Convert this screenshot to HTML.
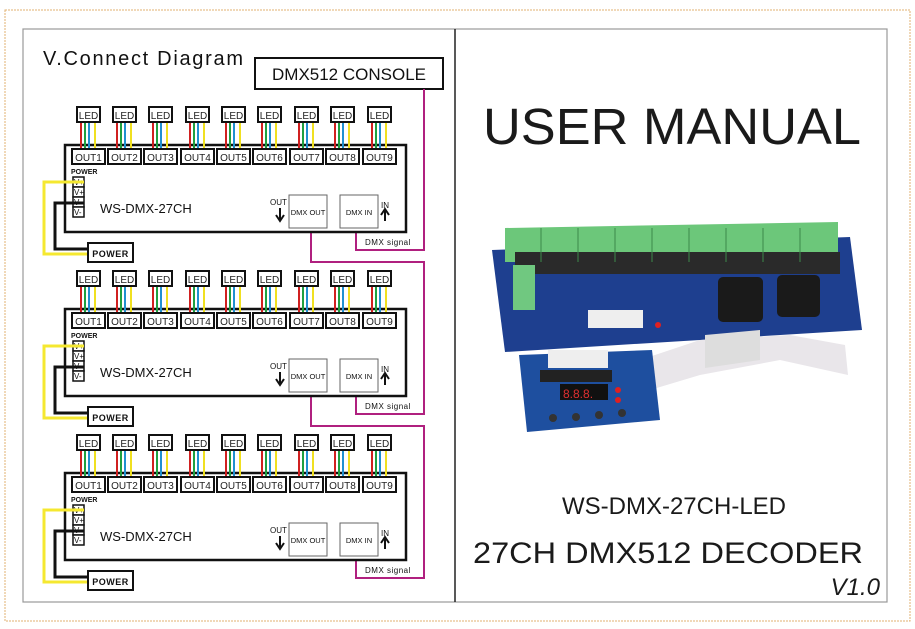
<!DOCTYPE html>
<html><head><meta charset="utf-8"><style>
html,body{margin:0;padding:0;background:#fff;}
svg{display:block;font-family:"Liberation Sans",Arial,sans-serif;}
</style></head><body>
<svg width="915" height="629" viewBox="0 0 915 629" xmlns="http://www.w3.org/2000/svg">
<rect x="5" y="10" width="905" height="611" fill="none" stroke="#e0b070" stroke-width="1" stroke-dasharray="2,1"/>
<rect x="23" y="29" width="864" height="573" fill="none" stroke="#999" stroke-width="1.2"/>
<line x1="455" y1="29" x2="455" y2="602" stroke="#222" stroke-width="1.5"/>
<text x="43" y="65" font-size="20" fill="#111" textLength="200" lengthAdjust="spacing">V.Connect Diagram</text>
<rect x="255" y="58" width="188" height="31" fill="#fff" stroke="#111" stroke-width="2"/>
<text x="349" y="80" font-size="17" text-anchor="middle" fill="#111">DMX512 CONSOLE</text>

<g fill="none" stroke="#b0207f" stroke-width="2">
<polyline points="424,89 424,250 356,250 356,228"/>
<polyline points="311,228 311,262 424,262 424,414 356,414 356,392"/>
<polyline points="311,392 311,426 424,426 424,578 356,578 356,556"/>
</g>

<g>
<rect x="65" y="145" width="341" height="87" fill="#fff" stroke="#111" stroke-width="2.5"/>
<g stroke-width="2">
<g transform="translate(0,0)"><line x1="81" y1="122" x2="81" y2="148" stroke="#d02020"/><line x1="85" y1="122" x2="85" y2="148" stroke="#20a040"/><line x1="89" y1="122" x2="89" y2="148" stroke="#2090d0"/><line x1="95" y1="122" x2="95" y2="148" stroke="#f0e020"/></g>
<g transform="translate(36,0)"><line x1="81" y1="122" x2="81" y2="148" stroke="#d02020"/><line x1="85" y1="122" x2="85" y2="148" stroke="#20a040"/><line x1="89" y1="122" x2="89" y2="148" stroke="#2090d0"/><line x1="95" y1="122" x2="95" y2="148" stroke="#f0e020"/></g>
<g transform="translate(72,0)"><line x1="81" y1="122" x2="81" y2="148" stroke="#d02020"/><line x1="85" y1="122" x2="85" y2="148" stroke="#20a040"/><line x1="89" y1="122" x2="89" y2="148" stroke="#2090d0"/><line x1="95" y1="122" x2="95" y2="148" stroke="#f0e020"/></g>
<g transform="translate(109,0)"><line x1="81" y1="122" x2="81" y2="148" stroke="#d02020"/><line x1="85" y1="122" x2="85" y2="148" stroke="#20a040"/><line x1="89" y1="122" x2="89" y2="148" stroke="#2090d0"/><line x1="95" y1="122" x2="95" y2="148" stroke="#f0e020"/></g>
<g transform="translate(145,0)"><line x1="81" y1="122" x2="81" y2="148" stroke="#d02020"/><line x1="85" y1="122" x2="85" y2="148" stroke="#20a040"/><line x1="89" y1="122" x2="89" y2="148" stroke="#2090d0"/><line x1="95" y1="122" x2="95" y2="148" stroke="#f0e020"/></g>
<g transform="translate(181,0)"><line x1="81" y1="122" x2="81" y2="148" stroke="#d02020"/><line x1="85" y1="122" x2="85" y2="148" stroke="#20a040"/><line x1="89" y1="122" x2="89" y2="148" stroke="#2090d0"/><line x1="95" y1="122" x2="95" y2="148" stroke="#f0e020"/></g>
<g transform="translate(218,0)"><line x1="81" y1="122" x2="81" y2="148" stroke="#d02020"/><line x1="85" y1="122" x2="85" y2="148" stroke="#20a040"/><line x1="89" y1="122" x2="89" y2="148" stroke="#2090d0"/><line x1="95" y1="122" x2="95" y2="148" stroke="#f0e020"/></g>
<g transform="translate(254,0)"><line x1="81" y1="122" x2="81" y2="148" stroke="#d02020"/><line x1="85" y1="122" x2="85" y2="148" stroke="#20a040"/><line x1="89" y1="122" x2="89" y2="148" stroke="#2090d0"/><line x1="95" y1="122" x2="95" y2="148" stroke="#f0e020"/></g>
<g transform="translate(291,0)"><line x1="81" y1="122" x2="81" y2="148" stroke="#d02020"/><line x1="85" y1="122" x2="85" y2="148" stroke="#20a040"/><line x1="89" y1="122" x2="89" y2="148" stroke="#2090d0"/><line x1="95" y1="122" x2="95" y2="148" stroke="#f0e020"/></g>
</g>
<g fill="#fff" stroke="#111" stroke-width="2">
<rect x="77" y="107" width="23" height="15"/><rect x="113" y="107" width="23" height="15"/><rect x="149" y="107" width="23" height="15"/><rect x="186" y="107" width="23" height="15"/><rect x="222" y="107" width="23" height="15"/><rect x="258" y="107" width="23" height="15"/><rect x="295" y="107" width="23" height="15"/><rect x="331" y="107" width="23" height="15"/><rect x="368" y="107" width="23" height="15"/>
<rect x="72" y="149" width="33" height="15"/><rect x="108" y="149" width="33" height="15"/><rect x="144" y="149" width="33" height="15"/><rect x="181" y="149" width="33" height="15"/><rect x="217" y="149" width="33" height="15"/><rect x="253" y="149" width="33" height="15"/><rect x="290" y="149" width="33" height="15"/><rect x="326" y="149" width="33" height="15"/><rect x="363" y="149" width="33" height="15"/>
</g>
<g font-size="10" fill="#222" text-anchor="middle">
<text x="88.5" y="119">LED</text><text x="124.5" y="119">LED</text><text x="160.5" y="119">LED</text><text x="197.5" y="119">LED</text><text x="233.5" y="119">LED</text><text x="269.5" y="119">LED</text><text x="306.5" y="119">LED</text><text x="342.5" y="119">LED</text><text x="379.5" y="119">LED</text>
<text x="88.5" y="161">OUT1</text><text x="124.5" y="161">OUT2</text><text x="160.5" y="161">OUT3</text><text x="197.5" y="161">OUT4</text><text x="233.5" y="161">OUT5</text><text x="269.5" y="161">OUT6</text><text x="306.5" y="161">OUT7</text><text x="342.5" y="161">OUT8</text><text x="379.5" y="161">OUT9</text>
</g>
<text x="71" y="174" font-size="7" font-weight="bold" fill="#111">POWER</text>
<g fill="#fff" stroke="#111" stroke-width="1.5"><rect x="73" y="177" width="11" height="10"/><rect x="73" y="187" width="11" height="10"/><rect x="73" y="197" width="11" height="10"/><rect x="73" y="207" width="11" height="10"/></g>
<g font-size="8" fill="#111"><text x="74" y="185">V+</text><text x="74" y="195">V+</text><text x="74" y="205">V-</text><text x="74" y="215">V-</text></g>
<text x="100" y="213" font-size="13" fill="#111">WS-DMX-27CH</text>
<rect x="289" y="195" width="38" height="33" fill="#fff" stroke="#666" stroke-width="1"/>
<rect x="340" y="195" width="38" height="33" fill="#fff" stroke="#666" stroke-width="1"/>
<text x="308" y="215" font-size="7.5" text-anchor="middle" fill="#111">DMX OUT</text>
<text x="359" y="215" font-size="7.5" text-anchor="middle" fill="#111">DMX IN</text>
<text x="270" y="205" font-size="8" fill="#111">OUT</text>
<text x="381" y="208" font-size="8" fill="#111">IN</text>
<path d="M280 208 V219 M276 215 L280 221 L284 215" stroke="#111" stroke-width="2" fill="none"/>
<path d="M385 221 V211 M381 215 L385 209 L389 215" stroke="#111" stroke-width="2" fill="none"/>
<text x="365" y="245" font-size="8" fill="#111" letter-spacing="0.5">DMX  signal</text>
<polyline points="84,182 44,182 44,254 88,254" fill="none" stroke="#f5e830" stroke-width="3"/>
<polyline points="84,203 55,203 55,249 88,249" fill="none" stroke="#111" stroke-width="3"/>
<rect x="88" y="243" width="45" height="19" fill="#fff" stroke="#111" stroke-width="2"/>
<text x="110.5" y="257" font-size="9" font-weight="bold" text-anchor="middle" fill="#111" letter-spacing="0.5">POWER</text>
</g>

<g transform="translate(0,164)">
<rect x="65" y="145" width="341" height="87" fill="#fff" stroke="#111" stroke-width="2.5"/>
<g stroke-width="2">
<g transform="translate(0,0)"><line x1="81" y1="122" x2="81" y2="148" stroke="#d02020"/><line x1="85" y1="122" x2="85" y2="148" stroke="#20a040"/><line x1="89" y1="122" x2="89" y2="148" stroke="#2090d0"/><line x1="95" y1="122" x2="95" y2="148" stroke="#f0e020"/></g>
<g transform="translate(36,0)"><line x1="81" y1="122" x2="81" y2="148" stroke="#d02020"/><line x1="85" y1="122" x2="85" y2="148" stroke="#20a040"/><line x1="89" y1="122" x2="89" y2="148" stroke="#2090d0"/><line x1="95" y1="122" x2="95" y2="148" stroke="#f0e020"/></g>
<g transform="translate(72,0)"><line x1="81" y1="122" x2="81" y2="148" stroke="#d02020"/><line x1="85" y1="122" x2="85" y2="148" stroke="#20a040"/><line x1="89" y1="122" x2="89" y2="148" stroke="#2090d0"/><line x1="95" y1="122" x2="95" y2="148" stroke="#f0e020"/></g>
<g transform="translate(109,0)"><line x1="81" y1="122" x2="81" y2="148" stroke="#d02020"/><line x1="85" y1="122" x2="85" y2="148" stroke="#20a040"/><line x1="89" y1="122" x2="89" y2="148" stroke="#2090d0"/><line x1="95" y1="122" x2="95" y2="148" stroke="#f0e020"/></g>
<g transform="translate(145,0)"><line x1="81" y1="122" x2="81" y2="148" stroke="#d02020"/><line x1="85" y1="122" x2="85" y2="148" stroke="#20a040"/><line x1="89" y1="122" x2="89" y2="148" stroke="#2090d0"/><line x1="95" y1="122" x2="95" y2="148" stroke="#f0e020"/></g>
<g transform="translate(181,0)"><line x1="81" y1="122" x2="81" y2="148" stroke="#d02020"/><line x1="85" y1="122" x2="85" y2="148" stroke="#20a040"/><line x1="89" y1="122" x2="89" y2="148" stroke="#2090d0"/><line x1="95" y1="122" x2="95" y2="148" stroke="#f0e020"/></g>
<g transform="translate(218,0)"><line x1="81" y1="122" x2="81" y2="148" stroke="#d02020"/><line x1="85" y1="122" x2="85" y2="148" stroke="#20a040"/><line x1="89" y1="122" x2="89" y2="148" stroke="#2090d0"/><line x1="95" y1="122" x2="95" y2="148" stroke="#f0e020"/></g>
<g transform="translate(254,0)"><line x1="81" y1="122" x2="81" y2="148" stroke="#d02020"/><line x1="85" y1="122" x2="85" y2="148" stroke="#20a040"/><line x1="89" y1="122" x2="89" y2="148" stroke="#2090d0"/><line x1="95" y1="122" x2="95" y2="148" stroke="#f0e020"/></g>
<g transform="translate(291,0)"><line x1="81" y1="122" x2="81" y2="148" stroke="#d02020"/><line x1="85" y1="122" x2="85" y2="148" stroke="#20a040"/><line x1="89" y1="122" x2="89" y2="148" stroke="#2090d0"/><line x1="95" y1="122" x2="95" y2="148" stroke="#f0e020"/></g>
</g>
<g fill="#fff" stroke="#111" stroke-width="2">
<rect x="77" y="107" width="23" height="15"/><rect x="113" y="107" width="23" height="15"/><rect x="149" y="107" width="23" height="15"/><rect x="186" y="107" width="23" height="15"/><rect x="222" y="107" width="23" height="15"/><rect x="258" y="107" width="23" height="15"/><rect x="295" y="107" width="23" height="15"/><rect x="331" y="107" width="23" height="15"/><rect x="368" y="107" width="23" height="15"/>
<rect x="72" y="149" width="33" height="15"/><rect x="108" y="149" width="33" height="15"/><rect x="144" y="149" width="33" height="15"/><rect x="181" y="149" width="33" height="15"/><rect x="217" y="149" width="33" height="15"/><rect x="253" y="149" width="33" height="15"/><rect x="290" y="149" width="33" height="15"/><rect x="326" y="149" width="33" height="15"/><rect x="363" y="149" width="33" height="15"/>
</g>
<g font-size="10" fill="#222" text-anchor="middle">
<text x="88.5" y="119">LED</text><text x="124.5" y="119">LED</text><text x="160.5" y="119">LED</text><text x="197.5" y="119">LED</text><text x="233.5" y="119">LED</text><text x="269.5" y="119">LED</text><text x="306.5" y="119">LED</text><text x="342.5" y="119">LED</text><text x="379.5" y="119">LED</text>
<text x="88.5" y="161">OUT1</text><text x="124.5" y="161">OUT2</text><text x="160.5" y="161">OUT3</text><text x="197.5" y="161">OUT4</text><text x="233.5" y="161">OUT5</text><text x="269.5" y="161">OUT6</text><text x="306.5" y="161">OUT7</text><text x="342.5" y="161">OUT8</text><text x="379.5" y="161">OUT9</text>
</g>
<text x="71" y="174" font-size="7" font-weight="bold" fill="#111">POWER</text>
<g fill="#fff" stroke="#111" stroke-width="1.5"><rect x="73" y="177" width="11" height="10"/><rect x="73" y="187" width="11" height="10"/><rect x="73" y="197" width="11" height="10"/><rect x="73" y="207" width="11" height="10"/></g>
<g font-size="8" fill="#111"><text x="74" y="185">V+</text><text x="74" y="195">V+</text><text x="74" y="205">V-</text><text x="74" y="215">V-</text></g>
<text x="100" y="213" font-size="13" fill="#111">WS-DMX-27CH</text>
<rect x="289" y="195" width="38" height="33" fill="#fff" stroke="#666" stroke-width="1"/>
<rect x="340" y="195" width="38" height="33" fill="#fff" stroke="#666" stroke-width="1"/>
<text x="308" y="215" font-size="7.5" text-anchor="middle" fill="#111">DMX OUT</text>
<text x="359" y="215" font-size="7.5" text-anchor="middle" fill="#111">DMX IN</text>
<text x="270" y="205" font-size="8" fill="#111">OUT</text>
<text x="381" y="208" font-size="8" fill="#111">IN</text>
<path d="M280 208 V219 M276 215 L280 221 L284 215" stroke="#111" stroke-width="2" fill="none"/>
<path d="M385 221 V211 M381 215 L385 209 L389 215" stroke="#111" stroke-width="2" fill="none"/>
<text x="365" y="245" font-size="8" fill="#111" letter-spacing="0.5">DMX  signal</text>
<polyline points="84,182 44,182 44,254 88,254" fill="none" stroke="#f5e830" stroke-width="3"/>
<polyline points="84,203 55,203 55,249 88,249" fill="none" stroke="#111" stroke-width="3"/>
<rect x="88" y="243" width="45" height="19" fill="#fff" stroke="#111" stroke-width="2"/>
<text x="110.5" y="257" font-size="9" font-weight="bold" text-anchor="middle" fill="#111" letter-spacing="0.5">POWER</text>
</g>

<g transform="translate(0,328)">
<rect x="65" y="145" width="341" height="87" fill="#fff" stroke="#111" stroke-width="2.5"/>
<g stroke-width="2">
<g transform="translate(0,0)"><line x1="81" y1="122" x2="81" y2="148" stroke="#d02020"/><line x1="85" y1="122" x2="85" y2="148" stroke="#20a040"/><line x1="89" y1="122" x2="89" y2="148" stroke="#2090d0"/><line x1="95" y1="122" x2="95" y2="148" stroke="#f0e020"/></g>
<g transform="translate(36,0)"><line x1="81" y1="122" x2="81" y2="148" stroke="#d02020"/><line x1="85" y1="122" x2="85" y2="148" stroke="#20a040"/><line x1="89" y1="122" x2="89" y2="148" stroke="#2090d0"/><line x1="95" y1="122" x2="95" y2="148" stroke="#f0e020"/></g>
<g transform="translate(72,0)"><line x1="81" y1="122" x2="81" y2="148" stroke="#d02020"/><line x1="85" y1="122" x2="85" y2="148" stroke="#20a040"/><line x1="89" y1="122" x2="89" y2="148" stroke="#2090d0"/><line x1="95" y1="122" x2="95" y2="148" stroke="#f0e020"/></g>
<g transform="translate(109,0)"><line x1="81" y1="122" x2="81" y2="148" stroke="#d02020"/><line x1="85" y1="122" x2="85" y2="148" stroke="#20a040"/><line x1="89" y1="122" x2="89" y2="148" stroke="#2090d0"/><line x1="95" y1="122" x2="95" y2="148" stroke="#f0e020"/></g>
<g transform="translate(145,0)"><line x1="81" y1="122" x2="81" y2="148" stroke="#d02020"/><line x1="85" y1="122" x2="85" y2="148" stroke="#20a040"/><line x1="89" y1="122" x2="89" y2="148" stroke="#2090d0"/><line x1="95" y1="122" x2="95" y2="148" stroke="#f0e020"/></g>
<g transform="translate(181,0)"><line x1="81" y1="122" x2="81" y2="148" stroke="#d02020"/><line x1="85" y1="122" x2="85" y2="148" stroke="#20a040"/><line x1="89" y1="122" x2="89" y2="148" stroke="#2090d0"/><line x1="95" y1="122" x2="95" y2="148" stroke="#f0e020"/></g>
<g transform="translate(218,0)"><line x1="81" y1="122" x2="81" y2="148" stroke="#d02020"/><line x1="85" y1="122" x2="85" y2="148" stroke="#20a040"/><line x1="89" y1="122" x2="89" y2="148" stroke="#2090d0"/><line x1="95" y1="122" x2="95" y2="148" stroke="#f0e020"/></g>
<g transform="translate(254,0)"><line x1="81" y1="122" x2="81" y2="148" stroke="#d02020"/><line x1="85" y1="122" x2="85" y2="148" stroke="#20a040"/><line x1="89" y1="122" x2="89" y2="148" stroke="#2090d0"/><line x1="95" y1="122" x2="95" y2="148" stroke="#f0e020"/></g>
<g transform="translate(291,0)"><line x1="81" y1="122" x2="81" y2="148" stroke="#d02020"/><line x1="85" y1="122" x2="85" y2="148" stroke="#20a040"/><line x1="89" y1="122" x2="89" y2="148" stroke="#2090d0"/><line x1="95" y1="122" x2="95" y2="148" stroke="#f0e020"/></g>
</g>
<g fill="#fff" stroke="#111" stroke-width="2">
<rect x="77" y="107" width="23" height="15"/><rect x="113" y="107" width="23" height="15"/><rect x="149" y="107" width="23" height="15"/><rect x="186" y="107" width="23" height="15"/><rect x="222" y="107" width="23" height="15"/><rect x="258" y="107" width="23" height="15"/><rect x="295" y="107" width="23" height="15"/><rect x="331" y="107" width="23" height="15"/><rect x="368" y="107" width="23" height="15"/>
<rect x="72" y="149" width="33" height="15"/><rect x="108" y="149" width="33" height="15"/><rect x="144" y="149" width="33" height="15"/><rect x="181" y="149" width="33" height="15"/><rect x="217" y="149" width="33" height="15"/><rect x="253" y="149" width="33" height="15"/><rect x="290" y="149" width="33" height="15"/><rect x="326" y="149" width="33" height="15"/><rect x="363" y="149" width="33" height="15"/>
</g>
<g font-size="10" fill="#222" text-anchor="middle">
<text x="88.5" y="119">LED</text><text x="124.5" y="119">LED</text><text x="160.5" y="119">LED</text><text x="197.5" y="119">LED</text><text x="233.5" y="119">LED</text><text x="269.5" y="119">LED</text><text x="306.5" y="119">LED</text><text x="342.5" y="119">LED</text><text x="379.5" y="119">LED</text>
<text x="88.5" y="161">OUT1</text><text x="124.5" y="161">OUT2</text><text x="160.5" y="161">OUT3</text><text x="197.5" y="161">OUT4</text><text x="233.5" y="161">OUT5</text><text x="269.5" y="161">OUT6</text><text x="306.5" y="161">OUT7</text><text x="342.5" y="161">OUT8</text><text x="379.5" y="161">OUT9</text>
</g>
<text x="71" y="174" font-size="7" font-weight="bold" fill="#111">POWER</text>
<g fill="#fff" stroke="#111" stroke-width="1.5"><rect x="73" y="177" width="11" height="10"/><rect x="73" y="187" width="11" height="10"/><rect x="73" y="197" width="11" height="10"/><rect x="73" y="207" width="11" height="10"/></g>
<g font-size="8" fill="#111"><text x="74" y="185">V+</text><text x="74" y="195">V+</text><text x="74" y="205">V-</text><text x="74" y="215">V-</text></g>
<text x="100" y="213" font-size="13" fill="#111">WS-DMX-27CH</text>
<rect x="289" y="195" width="38" height="33" fill="#fff" stroke="#666" stroke-width="1"/>
<rect x="340" y="195" width="38" height="33" fill="#fff" stroke="#666" stroke-width="1"/>
<text x="308" y="215" font-size="7.5" text-anchor="middle" fill="#111">DMX OUT</text>
<text x="359" y="215" font-size="7.5" text-anchor="middle" fill="#111">DMX IN</text>
<text x="270" y="205" font-size="8" fill="#111">OUT</text>
<text x="381" y="208" font-size="8" fill="#111">IN</text>
<path d="M280 208 V219 M276 215 L280 221 L284 215" stroke="#111" stroke-width="2" fill="none"/>
<path d="M385 221 V211 M381 215 L385 209 L389 215" stroke="#111" stroke-width="2" fill="none"/>
<text x="365" y="245" font-size="8" fill="#111" letter-spacing="0.5">DMX  signal</text>
<polyline points="84,182 44,182 44,254 88,254" fill="none" stroke="#f5e830" stroke-width="3"/>
<polyline points="84,203 55,203 55,249 88,249" fill="none" stroke="#111" stroke-width="3"/>
<rect x="88" y="243" width="45" height="19" fill="#fff" stroke="#111" stroke-width="2"/>
<text x="110.5" y="257" font-size="9" font-weight="bold" text-anchor="middle" fill="#111" letter-spacing="0.5">POWER</text>
</g>

<text x="672" y="144" font-size="51" text-anchor="middle" fill="#1a1a1a" textLength="378" lengthAdjust="spacingAndGlyphs">USER MANUAL</text>

<polygon points="492,250 850,237 862,330 505,352" fill="#1e3f8f"/>
<polygon points="505,228 838,222 838,262 505,262" fill="#6cc77a"/>
<rect x="515" y="252" width="325" height="22" fill="#2a2a2a"/>
<g stroke="#3c8a4a" stroke-width="1">
<line x1="541" y1="228" x2="541" y2="262"/><line x1="578" y1="228" x2="578" y2="262"/><line x1="615" y1="228" x2="615" y2="262"/><line x1="652" y1="228" x2="652" y2="262"/><line x1="689" y1="228" x2="689" y2="262"/><line x1="726" y1="228" x2="726" y2="262"/><line x1="763" y1="228" x2="763" y2="262"/><line x1="800" y1="228" x2="800" y2="262"/>
</g>
<rect x="513" y="265" width="22" height="45" fill="#70c880"/>
<rect x="718" y="277" width="45" height="45" rx="5" fill="#1a1a1a"/>
<rect x="777" y="275" width="43" height="42" rx="5" fill="#1a1a1a"/>
<rect x="588" y="310" width="55" height="18" fill="#eee"/>
<circle cx="658" cy="325" r="3" fill="#e02020"/>
<polygon points="640,360 700,340 790,335 845,345 848,375 780,360 700,375 650,390" fill="#e9e6ea"/>
<polygon points="705,335 760,330 760,360 705,368" fill="#ddd"/>
<polygon points="519,355 652,350 660,420 527,432" fill="#1e4f9f"/>
<rect x="548" y="350" width="60" height="18" fill="#eee"/>
<rect x="540" y="370" width="72" height="12" fill="#222"/>
<rect x="560" y="384" width="48" height="16" fill="#111"/>
<text x="563" y="398" font-size="12" fill="#e03030">8.8.8.</text>
<circle cx="618" cy="390" r="3" fill="#e02020"/><circle cx="618" cy="400" r="3" fill="#e02020"/>
<g fill="#333"><circle cx="553" cy="418" r="4"/><circle cx="576" cy="417" r="4"/><circle cx="599" cy="415" r="4"/><circle cx="622" cy="413" r="4"/></g>

<text x="674" y="514" font-size="24" text-anchor="middle" fill="#1a1a1a">WS-DMX-27CH-LED</text>
<text x="668" y="563" font-size="30" text-anchor="middle" fill="#1a1a1a" textLength="390" lengthAdjust="spacingAndGlyphs">27CH DMX512 DECODER</text>
<text x="880" y="595" font-size="24" font-style="italic" text-anchor="end" fill="#1a1a1a">V1.0</text>
</svg>
</body></html>
